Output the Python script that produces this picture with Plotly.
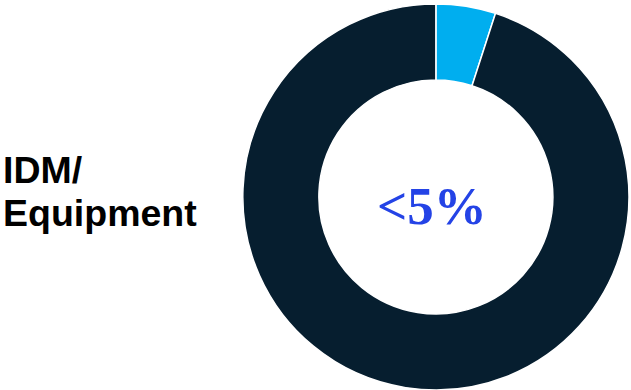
import plotly.graph_objects as go

# Share split shown in the donut
segments = ["IDM/Equipment", "Other"]
shares = [5, 95]
segment_colors = ["#00AEEF", "#061E2F"]

center_label = "<5%"
side_lines = ["IDM/", "Equipment"]
side_line_y = [0.565, 0.455]

fig = go.Figure(
    go.Pie(
        labels=segments,
        values=shares,
        hole=0.606,
        sort=False,
        direction="clockwise",
        rotation=0,
        marker=dict(colors=segment_colors, line=dict(color="white", width=1.5)),
        textinfo="none",
        hoverinfo="label+percent",
        showlegend=False,
        domain=dict(x=[0.3835, 0.998], y=[0.0, 0.99]),
    )
)

fig.add_annotation(
    text=center_label.replace("<", "&lt;"),
    x=0.684, y=0.472, xref="paper", yref="paper",
    xanchor="center", yanchor="middle",
    showarrow=False,
    font=dict(family="Liberation Serif", size=53, color="#2443E6", weight=700),
)

# Side label drawn line by line for tighter leading
for line, ypos in zip(side_lines, side_line_y):
    fig.add_annotation(
        text=line,
        x=0.002, y=ypos, xref="paper", yref="paper",
        xanchor="left", yanchor="middle", align="left",
        showarrow=False,
        font=dict(family="Liberation Sans", size=37.5, color="#000000", weight=700),
    )

fig.update_layout(
    width=631, height=390,
    margin=dict(l=0, r=0, t=0, b=0),
    paper_bgcolor="white",
    plot_bgcolor="white",
)

fig.write_html("out.html")
